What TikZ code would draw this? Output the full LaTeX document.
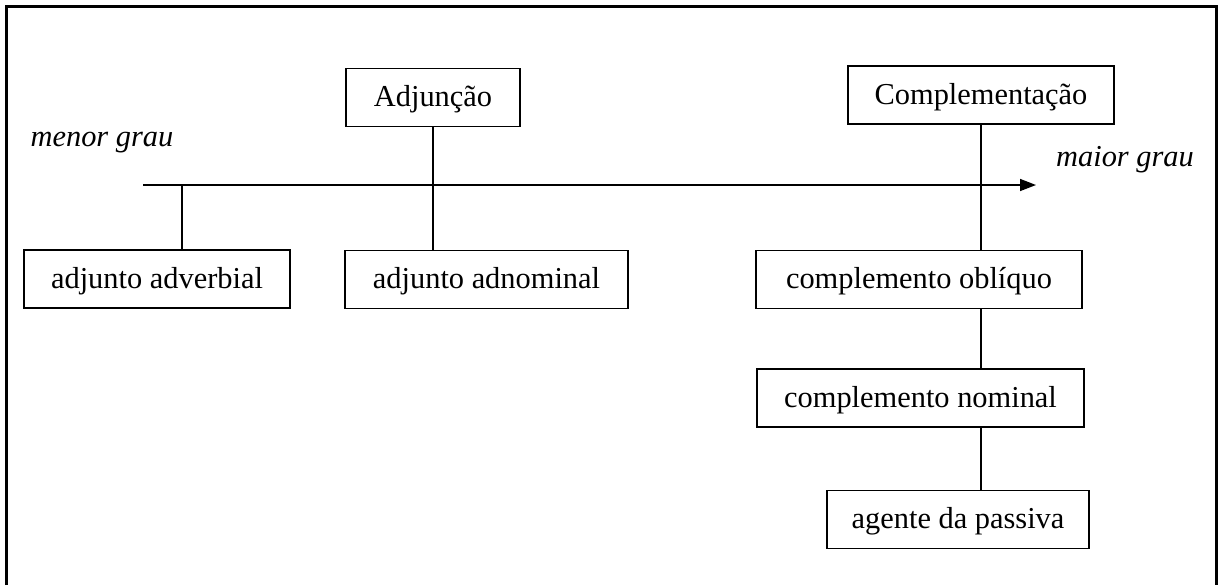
\documentclass[tikz,border=0pt]{standalone}
\usepackage{fontspec}
\setmainfont{Liberation Serif}
\usepackage{tikz}
\usetikzlibrary{arrows.meta,positioning}

\tikzset{
    caixa/.style={draw, line width=0.75pt, minimum height=29pt, inner sep=2pt,
        text height=2ex, text depth=0ex,
        font=\fontsize{15.2}{18}\selectfont},
    grau/.style={font=\fontsize{15.2}{18}\selectfont\itshape},
    liga/.style={line width=0.75pt},
}

\begin{document}
\begin{tikzpicture}[x=0.5pt, y=-0.5pt]
        \useasboundingbox (0,0) rectangle (1219,585);
        \draw[line width=1.3pt] (6.5,585) -- (6.5,6.5) -- (1216.5,6.5) -- (1216.5,585);

        \node[caixa, minimum width=87pt] (adj) at (433,97.5) {Adjunção};
        \node[caixa, minimum width=133pt] (comp) at (981,95) {Complementação};
        \node[caixa, minimum width=133pt] (adv) at (157,279) {adjunto adverbial};
        \node[caixa, minimum width=141.5pt] (adn) at (486.5,279.5) {adjunto adnominal};
        \node[caixa, minimum width=163pt] (obl) at (919,279.5) {complemento oblíquo};
        \node[caixa, minimum width=163.5pt] (nom) at (920.5,398) {complemento nominal};
        \node[caixa, minimum width=131pt] (agt) at (958,519.5) {agente da passiva};

        \node[grau] (menor) at (102,143) {menor grau};
        \node[grau] (maior) at (1125,160) {maior grau};

        \coordinate (ini) at (143,185);
        \coordinate (fim) at (1036,185);
        \coordinate (pa) at (182,185);

        \draw[liga, -{Triangle[length=8pt, width=6pt]}] (ini) -- (fim);
        \draw[liga] (pa) -- (pa |- adv.north);
        \draw[liga] (adj.south) -- (adj.south |- adn.north);
        \draw[liga] (comp.south) -- (comp.south |- obl.north);
        \draw[liga] (comp.south |- obl.south) -- (comp.south |- nom.north);
        \draw[liga] (comp.south |- nom.south) -- (comp.south |- agt.north);
    \end{tikzpicture}
\end{document}
